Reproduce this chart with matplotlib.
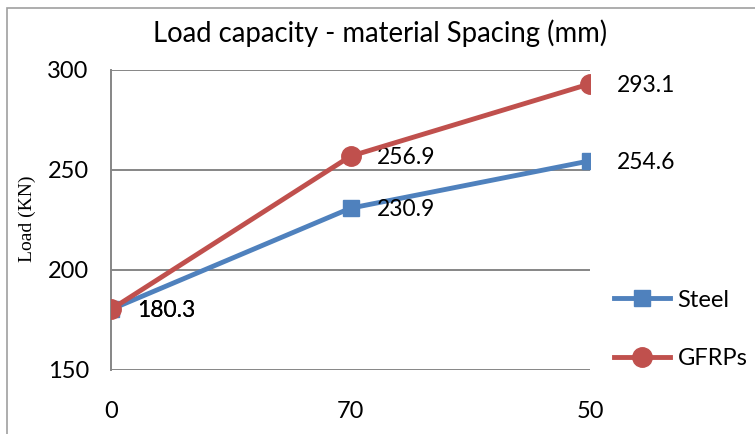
import matplotlib.pyplot as plt
from matplotlib.patches import Rectangle

spacing = ['0', '70', '50']
steel = [180.3, 230.9, 254.6]
gfrps = [180.3, 256.9, 293.1]
y_ticks = [150, 200, 250, 300]

blue = '#4F81BD'
red = '#C0504D'
grid_gray = '#868686'

plt.rcParams['font.family'] = ['Lato', 'DejaVu Sans']

fig = plt.figure(figsize=(7.55, 4.34), dpi=100)
ax = fig.add_axes([111 / 755, 64 / 434, 479 / 755, 300 / 434])

# chart border, cut off at right and bottom
fig.patches.append(Rectangle((7 / 755, -0.05), 1.1, (434 - 8) / 434 + 0.05,
                             transform=fig.transFigure, fill=False,
                             edgecolor='#A0A0A0', linewidth=1.2))

x = list(range(len(spacing)))
ax.plot(x, steel, color=blue, linewidth=3.5, marker='s', markersize=12,
        label='Steel', zorder=3)
ax.plot(x, gfrps, color=red, linewidth=3.5, marker='o', markersize=14,
        label='GFRPs', zorder=4)

for xi, v in zip(x, steel):
    ax.annotate(f'{v:.1f}', (xi, v), xytext=(19, -1), textcoords='offset points',
                ha='left', va='center', fontsize=16.5)
for xi, v in zip(x, gfrps):
    ax.annotate(f'{v:.1f}', (xi, v), xytext=(19, -1), textcoords='offset points',
                ha='left', va='center', fontsize=16.5)

ax.set_xlim(0, 2)
ax.set_ylim(150, 300)
ax.set_xticks(x)
ax.set_xticklabels(spacing)
ax.set_yticks(y_ticks)
ax.tick_params(axis='both', length=0, labelsize=17)
ax.tick_params(axis='x', pad=22)
ax.tick_params(axis='y', pad=16)

ax.grid(axis='y', color=grid_gray, linewidth=1.4)
ax.set_axisbelow(True)
for s in ['top', 'right', 'bottom']:
    ax.spines[s].set_visible(False)
ax.spines['left'].set_color(grid_gray)
ax.spines['left'].set_linewidth(1.4)

fig.text(380 / 755, 1 - 33 / 434, 'Load capacity - material Spacing (mm)',
         ha='center', va='center', fontsize=19.8)
fig.text(27 / 755, 1 - 219 / 434, 'Load (KN)', rotation=90, ha='center',
         va='center', fontsize=14, family='Liberation Serif')

ax.legend(loc='center left', bbox_to_anchor=(1.005, 0.135), frameon=False,
          fontsize=17, handlelength=2.4, handletextpad=0.3, labelspacing=1.6)

fig.savefig('out.png', dpi=100)
